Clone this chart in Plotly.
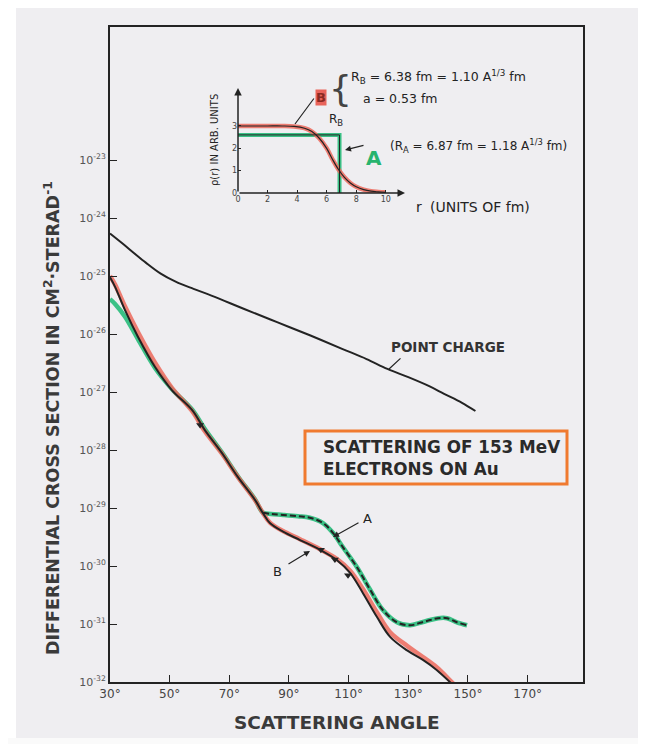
import plotly.graph_objects as go

# ---------------- data ----------------
angle_pc = [30, 34, 38, 42, 47, 52, 58, 64, 75, 86, 97, 108, 116, 123, 130, 137, 142, 148, 152.5]
sigma_pc = [5.4e-25, 3.7e-25, 2.5e-25, 1.7e-25, 1.1e-25, 8.0e-26, 6.0e-26, 4.6e-26, 2.7e-26, 1.6e-26,
            9.5e-27, 5.5e-27, 3.7e-27, 2.5e-27, 1.8e-27, 1.26e-27, 9.3e-28, 6.5e-28, 4.7e-28]

angle_B = [30, 31.7, 35, 39.4, 45.1, 50.8, 57.5, 61.8, 67.5, 72.9, 78.6, 81.3, 83.6, 88, 93.7,
           100.4, 106.1, 110.5, 114.8, 119.5, 123.9, 129.6, 134.9, 139.6, 145, 147]
sigma_B = [9.5e-26, 6.5e-26, 2.6e-26, 8.9e-27, 2.7e-27, 1.07e-27, 4.9e-28, 2.2e-28, 8.9e-29,
           3.4e-29, 1.38e-29, 8.1e-30, 5.5e-30, 3.9e-30, 2.8e-30, 1.9e-30, 1.26e-30, 7.6e-31,
           3.4e-31, 1.32e-31, 6.0e-32, 3.5e-32, 2.4e-32, 1.6e-32, 8.9e-33, 7.1e-33]
sigma_B_red = [1.0e-25, 7.1e-26, 3.0e-26, 1.07e-26, 3.2e-27, 1.17e-27, 4.7e-28, 2.1e-28, 8.7e-29,
               3.4e-29, 1.38e-29, 8.1e-30, 5.6e-30, 4.0e-30, 2.9e-30, 1.95e-30, 1.32e-30, 8.3e-31,
               4.0e-31, 1.58e-31, 7.2e-32, 4.2e-32, 2.7e-32, 1.78e-32, 9.5e-33, 7.6e-33]

angle_A = [30, 31.7, 35, 39.4, 45.1, 50.8, 57.5, 61.8, 67.5, 72.9, 78.6, 81.3, 84, 88, 93, 97,
           101.4, 104.8, 108.1, 112.8, 117.2, 121.5, 126.2, 130.6, 134, 137.3, 140, 143, 146.3, 149.7]
sigma_A = [4.0e-26, 3.3e-26, 2.0e-26, 8.1e-27, 2.6e-27, 1.12e-27, 5.0e-28, 2.3e-28, 9.1e-29,
           3.5e-29, 1.41e-29, 8.3e-30, 7.9e-30, 7.6e-30, 7.2e-30, 6.8e-30, 5.5e-30, 3.7e-30,
           2.1e-30, 9.5e-31, 3.9e-31, 1.74e-31, 1.07e-31, 9.5e-32, 1.05e-31, 1.17e-31, 1.26e-31,
           1.26e-31, 1.07e-31, 9.5e-32]

angle_pts = [60.2, 100.7, 105.4, 109.8]
sigma_pts = [2.7e-28, 1.9e-30, 1.3e-30, 6.9e-31]

# inset: charge density
r_B = [0, 1, 2, 3, 3.8, 4.5, 5.0, 5.5, 6.0, 6.4, 6.8, 7.2, 7.6, 8.0, 8.5, 9.0, 9.5, 10.0]
rho_B = [3.0, 3.0, 3.0, 3.0, 2.98, 2.9, 2.75, 2.45, 2.0, 1.5, 1.05, 0.7, 0.45, 0.28, 0.15, 0.08, 0.05, 0.03]
r_A = [0, 6.87, 6.87]
rho_A = [2.6, 2.6, 0]

x_ticks = [30, 50, 70, 90, 110, 130, 150, 170]
x_ticktext = [f"{v}°" for v in x_ticks]
y_exps = [-23, -24, -25, -26, -27, -28, -29, -30, -31, -32]
y_ticks = [10.0 ** e for e in y_exps]
y_ticktext = [f"10<sup>{e}</sup>" for e in y_exps]
inset_x_ticks = [0, 2, 4, 6, 8, 10]
inset_y_ticks = [0, 1, 2, 3]

# ---------------- figure ----------------
INK = "#232323"
RED = "rgba(236,104,92,0.85)"
GREEN = "rgba(48,190,128,0.95)"
FONT = "DejaVu Sans"
BG = "#efeef1"

fig = go.Figure()

# main curves
fig.add_trace(go.Scatter(x=angle_pc, y=sigma_pc, mode="lines", line=dict(color=INK, width=2, shape="spline"),
                         xaxis="x", yaxis="y", hoverinfo="skip"))
fig.add_trace(go.Scatter(x=angle_A, y=sigma_A, mode="lines", line=dict(color=GREEN, width=4.5, shape="spline"),
                         xaxis="x", yaxis="y", hoverinfo="skip"))
fig.add_trace(go.Scatter(x=angle_B, y=sigma_B_red, mode="lines", line=dict(color=RED, width=4.5, shape="spline"),
                         xaxis="x", yaxis="y", hoverinfo="skip"))
fig.add_trace(go.Scatter(x=angle_B, y=sigma_B, mode="lines", line=dict(color=INK, width=2, shape="spline"),
                         xaxis="x", yaxis="y", hoverinfo="skip"))
i0 = angle_A.index(81.3)
fig.add_trace(go.Scatter(x=angle_A[i0:], y=sigma_A[i0:], mode="lines",
                         line=dict(color=INK, width=2, dash="6px,3px", shape="spline"),
                         xaxis="x", yaxis="y", hoverinfo="skip"))
fig.add_trace(go.Scatter(x=angle_pts, y=sigma_pts, mode="markers",
                         marker=dict(symbol="triangle-down", size=7, color=INK),
                         xaxis="x", yaxis="y", hoverinfo="skip"))

# inset curves
fig.add_trace(go.Scatter(x=r_A, y=rho_A, mode="lines", line=dict(color=GREEN, width=4),
                         xaxis="x2", yaxis="y2", hoverinfo="skip"))
fig.add_trace(go.Scatter(x=r_B, y=rho_B, mode="lines", line=dict(color=RED, width=4.5, shape="spline"),
                         xaxis="x2", yaxis="y2", hoverinfo="skip"))
fig.add_trace(go.Scatter(x=r_B, y=rho_B, mode="lines", line=dict(color=INK, width=1.2, shape="spline"),
                         xaxis="x2", yaxis="y2", hoverinfo="skip"))
fig.add_trace(go.Scatter(x=r_A, y=rho_A, mode="lines", line=dict(color=INK, width=1),
                         xaxis="x2", yaxis="y2", hoverinfo="skip"))

# page geometry (the page has an 8px body margin around the figure)
OFF = 8
W, H = 630, 736
PL, PRt, PT, PB = 110, 583, 27, 682          # plot area edges in page pixels
L, R, T, B = PL - OFF, OFF + W - PRt, PT - OFF, OFF + H - PB
PW, PH = PRt - PL, PB - PT


def px(x):
    return (x - PL) / PW


def py(y):
    return (PB - y) / PH


annotations = []


def txt(x, y, text, size=12, color=INK, angle=0, xanchor="center", yanchor="middle", **kw):
    annotations.append(dict(x=px(x), y=py(y), xref="paper", yref="paper", text=text, showarrow=False,
                            font=dict(family=FONT, size=size, color=color), textangle=angle,
                            xanchor=xanchor, yanchor=yanchor, **kw))


# axis titles
txt(52, 418, "<b>DIFFERENTIAL CROSS SECTION IN CM<sup>2</sup>·STERAD<sup>-1</sup></b>", size=17.5,
    angle=-90, color="#3a3a3a")
txt(337, 722, "<b>SCATTERING ANGLE</b>", size=18.5, color="#3a3a3a")

# main annotations
txt(448, 347, "<b>POINT CHARGE</b>", size=13.5, color="#333")
txt(367, 518, "A", size=13)
txt(277, 571, "B", size=13)
annotations.append(dict(x=px(321), y=py(458), xref="paper", yref="paper",
                        text="<b>SCATTERING OF 153 MeV<br>ELECTRONS ON Au</b>", showarrow=False, align="left",
                        xanchor="left", yanchor="middle",
                        font=dict(family=FONT, size=16.8, color="#2a2a2a")))

# inset texts
txt(214, 140, "ρ(r) IN ARB. UNITS", size=10, angle=-90)
txt(419, 207, "r", size=14)
txt(428, 207, "(UNITS OF fm)", size=14, xanchor="left")
txt(336, 120, "R<sub>B</sub>", size=12)
annotations.append(dict(x=px(321), y=py(89), xref="paper", yref="paper", text="<b>B</b>", showarrow=False,
                        font=dict(family=FONT, size=13, color="#8a2a22"), bgcolor="rgba(232,84,74,0.9)",
                        borderpad=0))
txt(340, 88, "{", size=36, color="#444")
txt(349, 77, "R<sub>B</sub> = 6.38 fm = 1.10 A<sup>1/3</sup> fm", size=12.5, xanchor="left")
txt(361, 99, "a = 0.53 fm", size=12.5, xanchor="left")
annotations.append(dict(x=px(374), y=py(144), xref="paper", yref="paper", text="<b>A</b>", showarrow=False,
                        font=dict(family=FONT, size=20, color="rgb(40,180,110)")))
txt(388, 146, "(R<sub>A</sub> = 6.87 fm = 1.18 A<sup>1/3</sup> fm)", size=12, xanchor="left")


def seg(x0, y0, x1, y1, width=1.2, head=0):
    # line from page pixel (x0, y0) to page pixel (x1, y1), optional head at (x1, y1)
    annotations.append(dict(x=px(x1), y=py(y1), ax=x0 - x1, ay=y0 - y1, xref="paper", yref="paper",
                            text="", showarrow=True,
                            arrowhead=head, arrowsize=1, arrowwidth=width, arrowcolor=INK))


# pointer lines
seg(402, 357, 389, 369, head=0)
seg(360, 522, 333, 537, head=2)
seg(287, 565, 310, 551, head=2)
seg(315, 97, 295, 124, head=0)
seg(365, 145, 345, 150, head=2)

# inset axes arrows (data coordinates of the inset)
annotations.append(dict(x=11.3, y=0, ax=0, ay=0, xref="x2", yref="y2", axref="x2", ayref="y2",
                        text="", showarrow=True, arrowhead=2, arrowsize=1, arrowwidth=1.5, arrowcolor=INK))
annotations.append(dict(x=0, y=4.7, ax=0, ay=0, xref="x2", yref="y2", axref="x2", ayref="y2",
                        text="", showarrow=True, arrowhead=2, arrowsize=1, arrowwidth=1.5, arrowcolor=INK))

shapes = [
    # orange box
    dict(type="rect", xref="paper", yref="paper", x0=px(305), x1=px(567), y0=py(484), y1=py(431),
         line=dict(color="#f07a30", width=3), fillcolor="rgba(0,0,0,0)"),
    # white margins of the scan
    dict(type="rect", xref="paper", yref="paper", x0=px(OFF), x1=px(16), y0=py(OFF + H), y1=py(OFF),
         line=dict(width=0), fillcolor="#ffffff", layer="below"),
    dict(type="rect", xref="paper", yref="paper", x0=px(OFF), x1=px(OFF + W), y0=py(OFF + H), y1=py(738),
         line=dict(width=0), fillcolor="#fafafa", layer="below"),
]

fig.update_layout(
    width=W, height=H,
    margin=dict(l=L, r=R, t=T, b=B),
    paper_bgcolor=BG, plot_bgcolor=BG,
    showlegend=False,
    font=dict(family=FONT, color="#333"),
    xaxis=dict(range=[30, 30 + PW / 2.983], tickvals=x_ticks, ticktext=x_ticktext,
               ticks="inside", ticklen=7, tickwidth=1.2, tickcolor=INK,
               showline=True, linecolor=INK, linewidth=2, mirror=True,
               showgrid=False, zeroline=False, tickfont=dict(size=12, color="#444")),
    yaxis=dict(type="log", range=[-32, -32 + PH / 58.0], tickvals=y_ticks, ticktext=y_ticktext,
               ticks="inside", ticklen=7, tickwidth=1.2, tickcolor=INK,
               showline=True, linecolor=INK, linewidth=2, mirror=True,
               showgrid=False, zeroline=False, tickfont=dict(size=11, color="#555")),
    xaxis2=dict(domain=[px(238), px(405)], range=[0, 11.3], anchor="y2",
                tickvals=inset_x_ticks, ticks="inside", ticklen=3, tickcolor=INK,
                showline=False, showgrid=False, zeroline=False, tickfont=dict(size=8, color="#444")),
    yaxis2=dict(domain=[py(193), py(88)], range=[0, 4.7], anchor="x2",
                tickvals=inset_y_ticks, ticks="inside", ticklen=3, tickcolor=INK,
                showline=False, showgrid=False, zeroline=False, tickfont=dict(size=8, color="#444")),
    annotations=annotations,
    shapes=shapes,
)

fig.write_html("out.html")
